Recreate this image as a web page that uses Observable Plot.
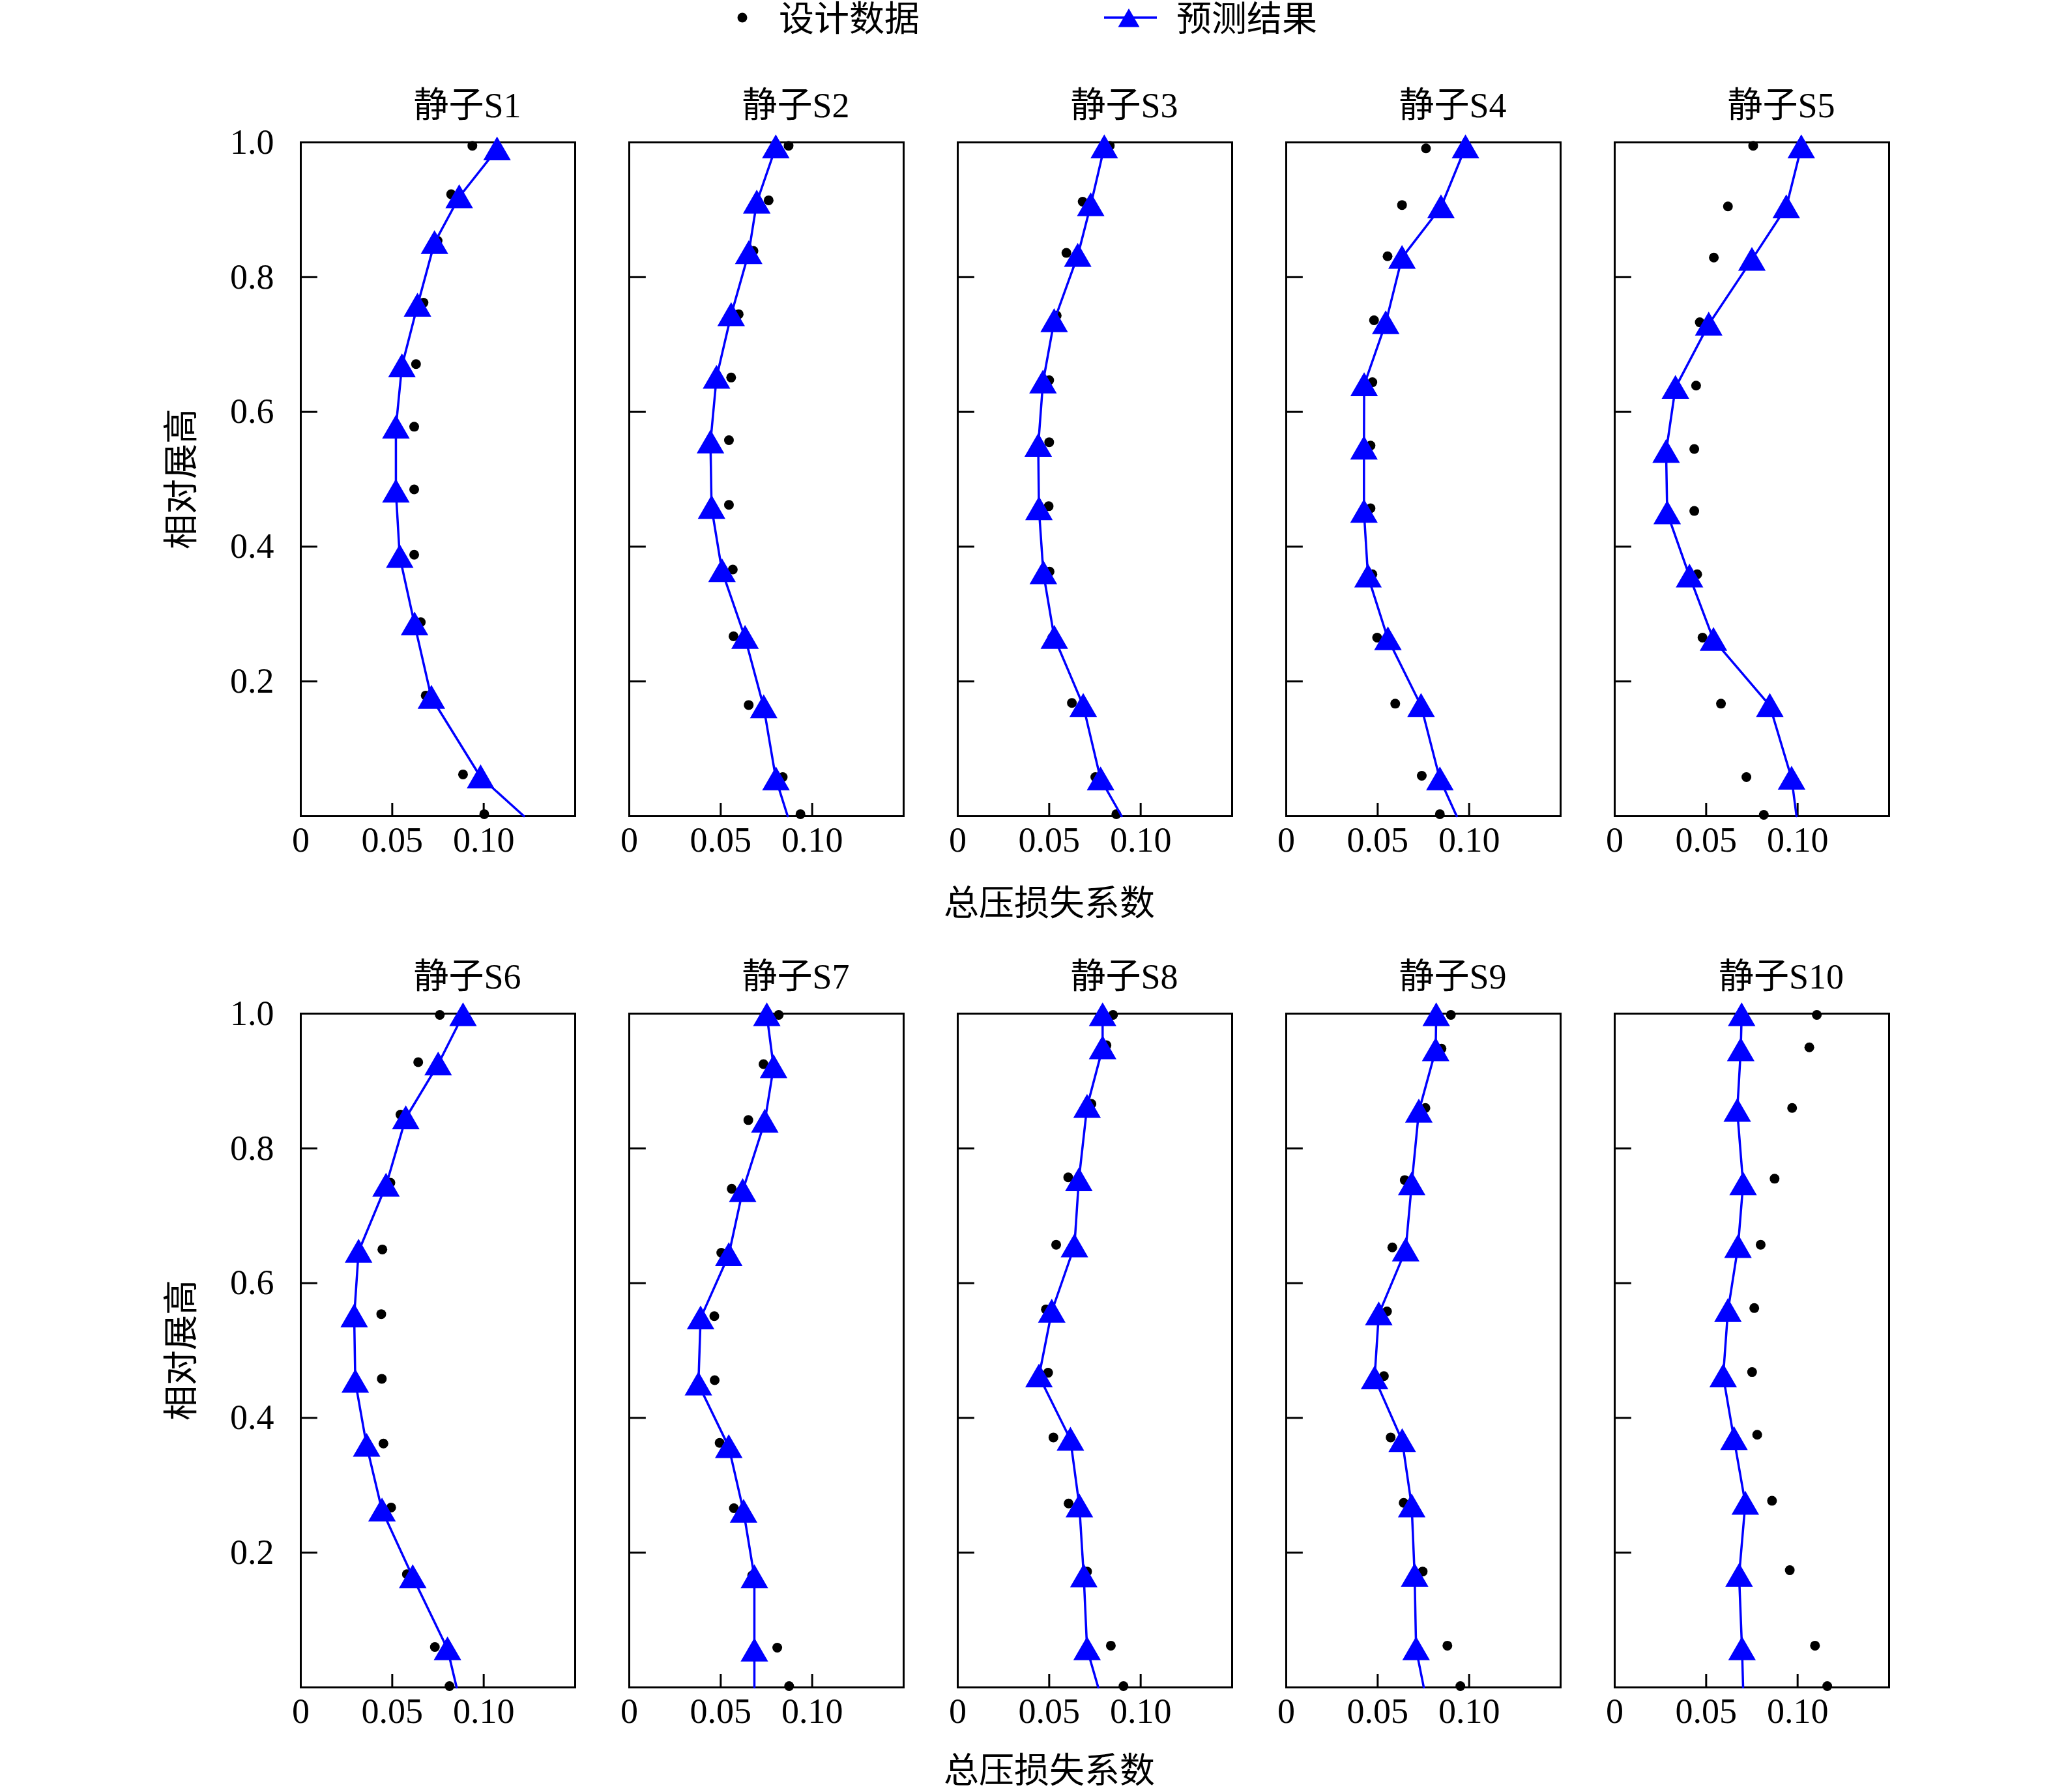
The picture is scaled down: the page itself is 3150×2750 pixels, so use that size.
<!DOCTYPE html>
<html><head><meta charset="utf-8">
<script src="https://cdn.jsdelivr.net/npm/d3@7"></script>
<script src="https://cdn.jsdelivr.net/npm/@observablehq/plot@0.6"></script>
<style>
body{margin:0;background:#fff;}
#page{position:relative;width:3150px;height:2750px;background:#fff;font-family:"Liberation Serif","Noto Sans CJK SC",serif;color:#000;overflow:hidden;}
.abs{position:absolute;}
.lbl{font-size:54px;white-space:nowrap;line-height:1;}
</style></head><body><div id="page"></div>
<script>
// ---------- data ----------
const panels = ["静子S1","静子S2","静子S3","静子S4","静子S5","静子S6","静子S7","静子S8","静子S9","静子S10"];
const seriesNames = ["设计数据","预测结果"];
const xLabel = "总压损失系数";
const yLabel = "相对展高";
const xTickVals = [0, 0.05, 0.10];
const xTickLabels = ["0","0.05","0.10"];
const yTickVals = [0.2, 0.4, 0.6, 0.8, 1.0];
const yTickLabels = ["0.2","0.4","0.6","0.8","1.0"];

// 设计数据 (design data)
const designX = [
  [0.0938,0.0822,0.0748,0.0671,0.0630,0.0620,0.0620,0.0620,0.0656,0.0683,0.0887,0.1003],
  [0.0871,0.0762,0.0679,0.0598,0.0557,0.0545,0.0545,0.0566,0.0570,0.0653,0.0839,0.0936],
  [0.0831,0.0683,0.0594,0.0541,0.0500,0.0500,0.0497,0.0502,0.0517,0.0624,0.0752,0.0867],
  [0.0764,0.0633,0.0554,0.0480,0.0471,0.0461,0.0461,0.0471,0.0497,0.0596,0.0741,0.0840],
  [0.0757,0.0619,0.0542,0.0465,0.0445,0.0435,0.0435,0.0451,0.0480,0.0581,0.0720,0.0815],
  [0.0760,0.0642,0.0545,0.0490,0.0446,0.0440,0.0443,0.0452,0.0494,0.0580,0.0733,0.0813],
  [0.0817,0.0734,0.0651,0.0560,0.0503,0.0465,0.0467,0.0494,0.0572,0.0672,0.0809,0.0874],
  [0.0849,0.0813,0.0731,0.0604,0.0538,0.0482,0.0494,0.0523,0.0606,0.0707,0.0837,0.0906],
  [0.0900,0.0849,0.0761,0.0648,0.0580,0.0551,0.0534,0.0571,0.0642,0.0746,0.0881,0.0952],
  [0.1105,0.1064,0.0970,0.0874,0.0798,0.0763,0.0751,0.0779,0.0860,0.0957,0.1095,0.1162]
];
const designY = [
  [0.995,0.923,0.854,0.762,0.671,0.578,0.485,0.388,0.288,0.179,0.062,0.003],
  [0.995,0.914,0.839,0.745,0.651,0.558,0.462,0.366,0.267,0.165,0.058,0.003],
  [0.995,0.912,0.836,0.743,0.647,0.555,0.460,0.363,0.265,0.168,0.058,0.003],
  [0.991,0.907,0.831,0.736,0.644,0.550,0.457,0.359,0.265,0.167,0.060,0.003],
  [0.995,0.905,0.829,0.733,0.639,0.545,0.453,0.359,0.265,0.167,0.058,0.002],
  [0.998,0.928,0.850,0.749,0.650,0.554,0.458,0.362,0.267,0.168,0.060,0.002],
  [0.998,0.925,0.842,0.740,0.645,0.551,0.456,0.363,0.266,0.166,0.059,0.002],
  [0.998,0.953,0.866,0.757,0.657,0.561,0.467,0.371,0.273,0.172,0.062,0.002],
  [0.998,0.948,0.860,0.753,0.653,0.558,0.462,0.371,0.274,0.172,0.062,0.002],
  [0.998,0.950,0.860,0.755,0.657,0.563,0.468,0.375,0.277,0.174,0.062,0.002]
];
// 预测结果 (predicted) – last point of each list ends the line at the hub, without a marker
const predX = [
  [0.1073,0.0866,0.0731,0.0638,0.0553,0.0520,0.0520,0.0541,0.0622,0.0714,0.0983,0.1220],
  [0.0801,0.0697,0.0653,0.0557,0.0477,0.0444,0.0450,0.0507,0.0633,0.0735,0.0802,0.0866],
  [0.0801,0.0727,0.0656,0.0527,0.0466,0.0440,0.0444,0.0468,0.0528,0.0686,0.0781,0.0896],
  [0.0980,0.0846,0.0633,0.0544,0.0426,0.0425,0.0425,0.0447,0.0556,0.0737,0.0840,0.0932],
  [0.1020,0.0938,0.0750,0.0514,0.0332,0.0281,0.0287,0.0409,0.0540,0.0848,0.0967,0.0994],
  [0.0887,0.0751,0.0574,0.0466,0.0316,0.0292,0.0298,0.0360,0.0444,0.0612,0.0802,0.0852],
  [0.0752,0.0789,0.0741,0.0620,0.0544,0.0390,0.0378,0.0544,0.0625,0.0684,0.0684,0.0684],
  [0.0792,0.0792,0.0707,0.0662,0.0638,0.0514,0.0444,0.0616,0.0665,0.0689,0.0707,0.0768],
  [0.0820,0.0817,0.0725,0.0686,0.0653,0.0506,0.0483,0.0634,0.0686,0.0702,0.0710,0.0752],
  [0.0694,0.0689,0.0670,0.0702,0.0674,0.0619,0.0593,0.0652,0.0714,0.0680,0.0696,0.0702]
];
const predY = [
  [0.990,0.919,0.851,0.758,0.668,0.577,0.482,0.385,0.285,0.176,0.058,0.0],
  [0.993,0.911,0.836,0.744,0.651,0.555,0.458,0.364,0.265,0.162,0.055,0.0],
  [0.993,0.907,0.832,0.735,0.644,0.550,0.456,0.361,0.265,0.164,0.055,0.0],
  [0.993,0.904,0.829,0.732,0.640,0.546,0.452,0.356,0.263,0.164,0.055,0.0],
  [0.993,0.904,0.826,0.730,0.636,0.541,0.450,0.356,0.262,0.164,0.056,0.0],
  [0.998,0.925,0.845,0.745,0.647,0.551,0.454,0.359,0.263,0.164,0.057,0.0],
  [0.998,0.921,0.840,0.737,0.642,0.548,0.450,0.357,0.261,0.164,0.055,0.0],
  [0.998,0.949,0.862,0.753,0.655,0.558,0.462,0.368,0.269,0.165,0.057,0.0],
  [0.998,0.946,0.855,0.747,0.649,0.554,0.459,0.366,0.269,0.166,0.057,0.0],
  [0.998,0.946,0.856,0.747,0.654,0.559,0.462,0.369,0.273,0.166,0.057,0.0]
];

// ---------- layout ----------
const W = 3150;
const mL = 459, mR = 249, mT = 118, mB = 100, frameH = 1034;
const padIn = 0.164;
const panelW = (W - mL - mR) / (5 - padIn) * (1 - padIn);
const BLUE = "#0000ff";
const FONT = '"Liberation Serif","Noto Sans CJK SC",serif';
const page = document.getElementById("page");

function rowPlot(r) {
  const names = panels.slice(r * 5, r * 5 + 5);
  const design = [], pred = [];
  names.forEach((p, k) => {
    const i = r * 5 + k;
    designX[i].forEach((x, j) => design.push({panel: p, x, y: designY[i][j]}));
    predX[i].forEach((x, j) => pred.push({panel: p, x, y: predY[i][j], last: j === predX[i].length - 1}));
  });
  return Plot.plot({
    width: W, height: mT + frameH + mB,
    marginTop: mT, marginBottom: mB, marginLeft: mL, marginRight: mR,
    style: {fontSize: "54px", fontFamily: FONT, background: "white", color: "black", overflow: "visible"},
    fx: {domain: names, paddingInner: padIn, paddingOuter: 0, axis: null},
    x: {domain: [0, 0.15]},
    y: {domain: [0, 1]},
    marks: [
      Plot.frame({stroke: "black", strokeWidth: 3}),
      Plot.tickY(yTickVals.slice(0, 4), {y: d => d, insetRight: panelW - 27, stroke: "black", strokeWidth: 3}),
      Plot.tickX(xTickVals.slice(1), {x: d => d, insetTop: frameH - 20, stroke: "black", strokeWidth: 3}),
      Plot.axisY({ticks: yTickVals, tickFormat: d => yTickLabels[yTickVals.indexOf(d)], tickSize: 0, tickPadding: 41, label: null, fontSize: 54}),
      Plot.axisX({ticks: xTickVals, tickFormat: d => xTickLabels[xTickVals.indexOf(d)], tickSize: 0, tickPadding: 16, label: null, fontSize: 54}),
      Plot.text(names, {fx: d => d, text: d => d, frameAnchor: "top", dy: -56, dx: 45, fontSize: 54, lineAnchor: "middle"}),
      Plot.dot(design, {fx: "panel", x: "x", y: "y", r: 7.5, fill: "black", stroke: null}),
      Plot.line(pred, {fx: "panel", x: "x", y: "y", stroke: BLUE, strokeWidth: 3.5}),
      Plot.dot(pred.filter(d => !d.last), {fx: "panel", x: "x", y: "y", symbol: "triangle", r: 15.7, fill: BLUE, stroke: null, dy: 5})
    ]
  });
}

function place(el, left, top) {
  el.style.position = "absolute"; el.style.left = left + "px"; el.style.top = top + "px";
  page.appendChild(el);
}
function label(text, x, y, rotate) {
  const d = document.createElement("div");
  d.className = "abs lbl";
  d.textContent = text;
  d.style.left = x + "px"; d.style.top = y + "px";
  d.style.transform = "translate(-50%,-50%)" + (rotate ? " rotate(-90deg)" : "");
  page.appendChild(d);
}

const rowTops = [100, 1437];
const xLabelOffsets = [135, 129];
rowTops.forEach((t, r) => {
  place(rowPlot(r), 0, t);
  label(xLabel, 1610, t + mT + frameH + xLabelOffsets[r]);
  label(yLabel, 279, t + mT + frameH / 2, true);
});

// legend
const legY = 30;
const svgNS = "http://www.w3.org/2000/svg";
const leg = document.createElementNS(svgNS, "svg");
leg.setAttribute("width", 1000); leg.setAttribute("height", 70);
leg.style.position = "absolute"; leg.style.left = "1092px"; leg.style.top = "0px";
const dot = document.createElementNS(svgNS, "circle");
dot.setAttribute("cx", 47); dot.setAttribute("cy", legY - 3); dot.setAttribute("r", 7.5); dot.setAttribute("fill", "black");
leg.appendChild(dot);
const ln = document.createElementNS(svgNS, "line");
ln.setAttribute("x1", 602); ln.setAttribute("x2", 683); ln.setAttribute("y1", legY - 3); ln.setAttribute("y2", legY - 3);
ln.setAttribute("stroke", BLUE); ln.setAttribute("stroke-width", 3.5);
leg.appendChild(ln);
const tri = document.createElementNS(svgNS, "path");
tri.setAttribute("d", d3.symbol(d3.symbolTriangle2, Math.PI * 15.7 * 15.7)());
tri.setAttribute("transform", `translate(640,${legY + 2})`);
tri.setAttribute("fill", BLUE);
leg.appendChild(tri);
page.appendChild(leg);
[[seriesNames[0], 1195], [seriesNames[1], 1805]].forEach(([t, x]) => {
  const d = document.createElement("div");
  d.className = "abs lbl"; d.textContent = t;
  d.style.left = x + "px"; d.style.top = legY + "px"; d.style.transform = "translateY(-50%)";
  page.appendChild(d);
});
</script></body></html>
